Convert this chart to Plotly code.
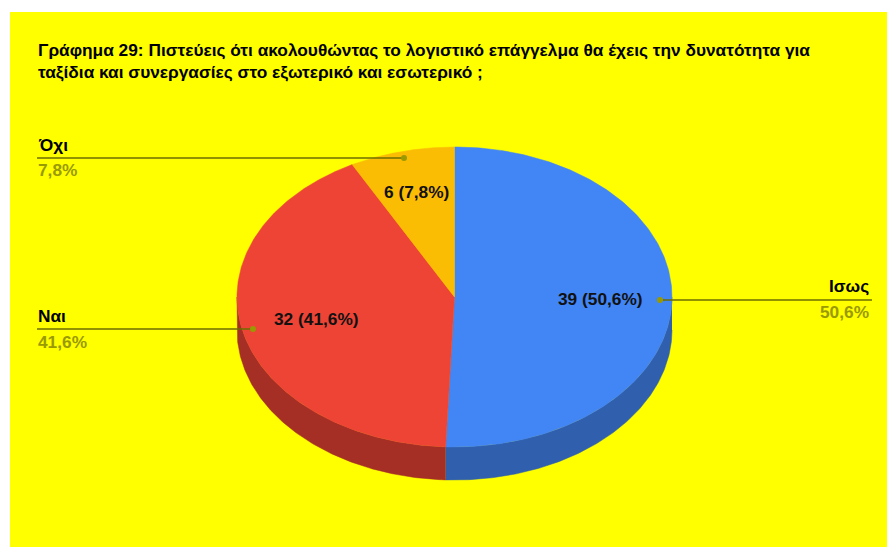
import numpy as np
import plotly.graph_objects as go

categories = ["Ισως", "Ναι", "Όχι"]
counts = [39, 32, 6]
percent_labels = ["50,6%", "41,6%", "7,8%"]
slice_labels = ["39 (50,6%)", "32 (41,6%)", "6 (7,8%)"]
top_colors = ["#4285f4", "#ed4436", "#fbbc04"]
side_colors = ["#2f5fad", "#a52e25", "#b08403"]
title_text = ("Γράφημα 29: Πιστεύεις ότι ακολουθώντας το λογιστικό επάγγελμα θα έχεις την δυνατότητα για<br>"
              "ταξίδια και συνεργασίες στο εξωτερικό και εσωτερικό ;")

CX, CY, RX, RY, DEPTH = 454.5, 297.0, 217.5, 150.0, 33.0
FONT = "Liberation Sans"
OLIVE = "#6e6e00"
PCT = "#999900"
W, H = 887, 547

slice_label_pos = [(600, 299), (316, 319), (416, 192)]
anchors = [(660, 300), (253, 329), (404, 158)]
leader_ends = [872, 37, 37]
name_x = [871, 36, 36]
name_y = [286, 316, 145]
pct_y = [312, 342, 170]
sides = ["right", "left", "left"]

total = sum(counts)
fracs = np.cumsum([0] + counts) / total * 2 * np.pi

fig = go.Figure()


def px(theta):
    return CX + RX * np.sin(theta), CY - RY * np.cos(theta)


for i in range(len(counts)):
    a, b = max(fracs[i], np.pi / 2), min(fracs[i + 1], 3 * np.pi / 2)
    if b <= a:
        continue
    t = np.linspace(a, b, 160)
    x, y = px(t)
    fig.add_trace(go.Scatter(
        x=np.r_[x, x[::-1]], y=np.r_[y, y[::-1] + DEPTH],
        fill="toself", fillcolor=side_colors[i], mode="lines",
        line=dict(width=0.5, color=side_colors[i]), hoverinfo="skip", showlegend=False))

for i in range(len(counts)):
    t = np.linspace(fracs[i], fracs[i + 1], 240)
    x, y = px(t)
    fig.add_trace(go.Scatter(
        x=np.r_[CX, x, CX], y=np.r_[CY, y, CY],
        fill="toself", fillcolor=top_colors[i], mode="lines",
        line=dict(width=0.5, color=top_colors[i]), name=categories[i],
        hoverinfo="name", showlegend=False))

for i in range(len(counts)):
    ax, ay = anchors[i]
    fig.add_trace(go.Scatter(x=[leader_ends[i], ax], y=[ay, ay], mode="lines",
                             line=dict(color=OLIVE, width=1.3), hoverinfo="skip", showlegend=False))
    fig.add_trace(go.Scatter(x=[ax], y=[ay], mode="markers",
                             marker=dict(color="#999900", size=6), hoverinfo="skip", showlegend=False))

annotations = [dict(x=36, y=61, xref="x", yref="y", text=title_text, showarrow=False, xanchor="left",
                    yanchor="middle", align="left",
                    font=dict(family=FONT, size=17.3, color="#000000", weight="bold"))]
for i in range(len(counts)):
    lx, ly = slice_label_pos[i]
    annotations.append(dict(x=lx, y=ly, xref="x", yref="y", text=slice_labels[i], showarrow=False,
                            xanchor="center", yanchor="middle",
                            font=dict(family=FONT, size=17.3, color="#111111", weight="bold")))
    anchor = "right" if sides[i] == "right" else "left"
    annotations.append(dict(x=name_x[i], y=name_y[i], xref="x", yref="y", text=categories[i], showarrow=False,
                            xanchor=anchor, yanchor="middle",
                            font=dict(family=FONT, size=17.3, color="#000000", weight="bold")))
    annotations.append(dict(x=name_x[i], y=pct_y[i], xref="x", yref="y", text=percent_labels[i], showarrow=False,
                            xanchor=anchor, yanchor="middle",
                            font=dict(family=FONT, size=17.3, color=PCT, weight="bold")))

fig.update_layout(
    width=W, height=H, margin=dict(l=0, r=0, t=0, b=0),
    paper_bgcolor="#ffffff", plot_bgcolor="#ffffff",
    xaxis=dict(range=[0, W], visible=False, fixedrange=True),
    yaxis=dict(range=[H, 0], visible=False, fixedrange=True),
    shapes=[dict(type="rect", x0=10, x1=W, y0=12, y1=H, xref="x", yref="y",
                 fillcolor="#ffff00", line=dict(width=0), layer="below")],
    annotations=annotations,
)
fig.write_html("out.html", config={"displayModeBar": False},
               post_script="document.body.style.margin='0';document.body.style.overflow='hidden';")
